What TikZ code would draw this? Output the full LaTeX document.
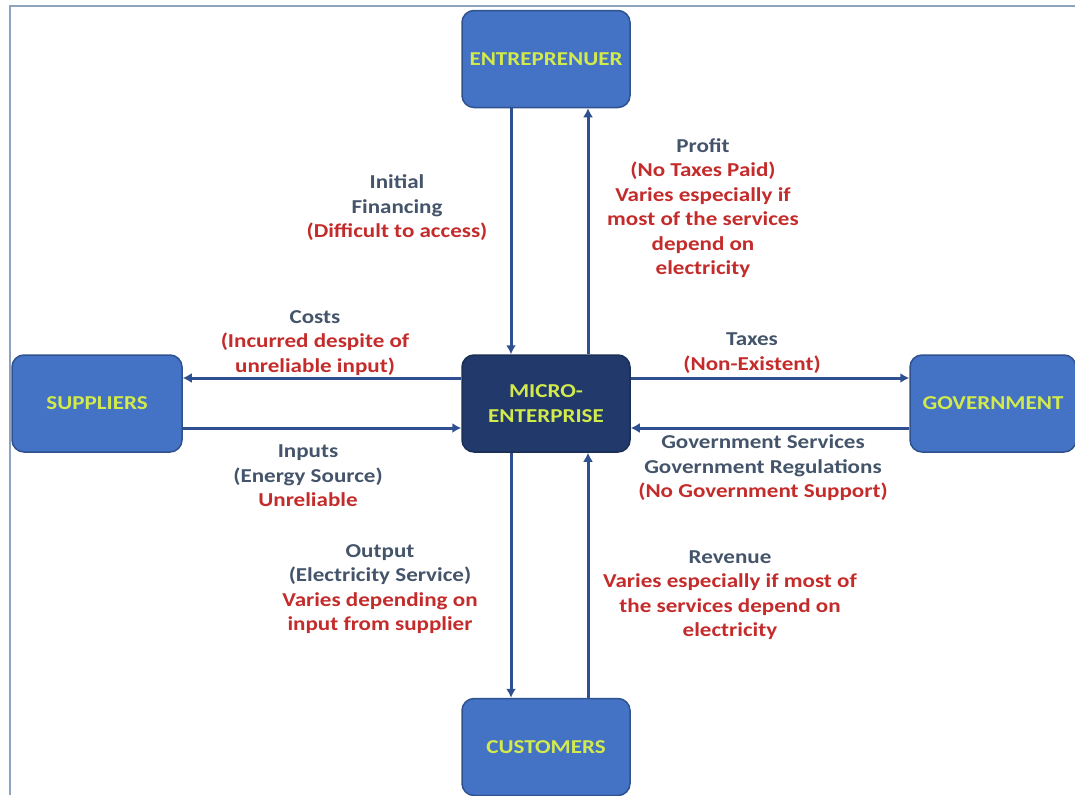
\documentclass[tikz,border=0pt]{standalone}
\usepackage{fontspec}
\setmainfont{Carlito}[FakeStretch=1.17]
\usetikzlibrary{arrows.meta,calc}
\definecolor{boxblue}{HTML}{4472C4}
\definecolor{boxedge}{HTML}{2F528F}
\definecolor{navy}{HTML}{213A6B}
\definecolor{lblyellow}{HTML}{D2EA4C}
\definecolor{lblblue}{HTML}{44546A}
\definecolor{lblred}{HTML}{C42B2B}
\definecolor{arrowcol}{HTML}{2F5090}
\definecolor{framecol}{HTML}{8EA3BF}
\newcommand\rd[1]{\textcolor{lblred}{#1}}
\begin{document}
\begin{tikzpicture}[x=1pt,y=-1pt,
  box/.style={draw=boxedge,line width=1.5pt,fill=boxblue,rounded corners=12pt,
    minimum width=168pt,minimum height=97pt,inner sep=0pt,align=center,
    text=lblyellow,font=\fontsize{19.7}{24.5}\selectfont\bfseries},
  centrebox/.style={box,fill=navy,draw=navy!80!black},
  lbl/.style={align=center,inner sep=0pt,text=lblblue,
    font=\fontsize{19.7}{24.5}\selectfont\bfseries},
  arr/.style={draw=arrowcol,line width=3pt,-{Latex[length=9pt,width=10pt]}},
  framestyle/.style={draw=framecol,line width=2pt}]
\useasboundingbox (0,0) rectangle (1075,795);
\draw[framestyle] (10,795) -- (10,6) -- (1075,6);

\node[box] (ent) at (546,59) {ENTREPRENUER};
\node[centrebox] (mic) at (546,403.5) {MICRO-\\ENTERPRISE};
\node[box,minimum width=170pt] (sup) at (97,403.5) {SUPPLIERS};
\node[box,minimum width=166pt] (gov) at (993,403.5) {GOVERNMENT};
\node[box] (cus) at (546,747) {CUSTOMERS};

% vertical connectors
\draw[arr] ([xshift=-35pt]ent.south) -- ([xshift=-35pt]mic.north);
\draw[arr] ([xshift=42pt]mic.north) -- ([xshift=42pt]ent.south);
\draw[arr] ([xshift=-35pt]mic.south) -- ([xshift=-35pt]cus.north);
\draw[arr] ([xshift=42pt]cus.north) -- ([xshift=42pt]mic.south);
% horizontal connectors
\draw[arr] ([yshift=25.5pt]mic.west) -- ([yshift=25.5pt]sup.east);
\draw[arr] ([yshift=-24.5pt]sup.east) -- ([yshift=-24.5pt]mic.west);
\draw[arr] ([yshift=25.5pt]mic.east) -- ([yshift=25.5pt]gov.west);
\draw[arr] ([yshift=-24.5pt]gov.west) -- ([yshift=-24.5pt]mic.east);

% labels
\node[lbl] (lfin) at (397,208) {Initial\\Financing\\\rd{(Difficult to access)}};
\node[lbl] (lprof) at (703,208) {Profit\\\rd{(No Taxes Paid)}\\\rd{Varies especially if}\\\rd{most of the services}\\\rd{depend on}\\\rd{electricity}};
\node[lbl] (lcost) at (315,343) {Costs\\\rd{(Incurred despite of}\\\rd{unreliable input)}};
\node[lbl] (linp) at (308,476) {Inputs\\(Energy Source)\\\rd{Unreliable}};
\node[lbl] (ltax) at (752,353) {Taxes\\\rd{(Non-Existent)}};
\node[lbl] (lgov) at (763,468) {Government Services\\Government Regulations\\\rd{(No Government Support)}};
\node[lbl] (lout) at (380,589) {Output\\(Electricity Service)\\\rd{Varies depending on}\\\rd{input from supplier}};
\node[lbl] (lrev) at (730,595) {Revenue\\\rd{Varies especially if most of}\\\rd{the services depend on}\\\rd{electricity}};
\end{tikzpicture}
\end{document}
